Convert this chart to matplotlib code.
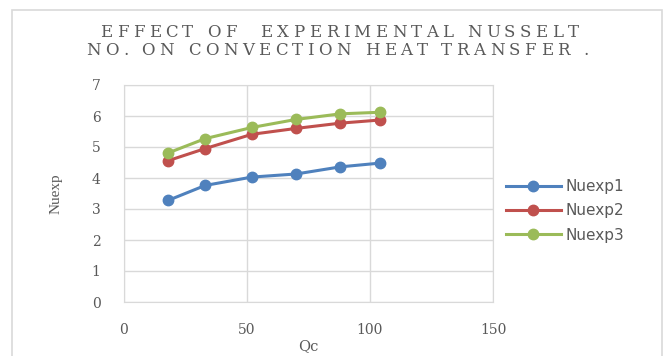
import matplotlib
matplotlib.use("Agg")
from matplotlib import pyplot as plt
from matplotlib.patches import Rectangle
from matplotlib.font_manager import FontProperties

qc = [18, 33, 52, 70, 88, 104]
nuexp1 = [3.28, 3.76, 4.03, 4.13, 4.36, 4.48]
nuexp2 = [4.56, 4.95, 5.41, 5.60, 5.77, 5.87]
nuexp3 = [4.81, 5.27, 5.63, 5.89, 6.07, 6.12]
series = [("Nuexp1", nuexp1, "#4F81BD"),
          ("Nuexp2", nuexp2, "#C0504D"),
          ("Nuexp3", nuexp3, "#9BBB59")]

titulo1 = "EFFECT OF  EXPERIMENTAL NUSSELT"
titulo2 = "NO. ON CONVECTION HEAT TRANSFER ."

x_ticks = [0, 50, 100, 150]
y_ticks = [0, 1, 2, 3, 4, 5, 6, 7]
gris = "#595959"

fig = plt.figure(figsize=(6.64, 3.56), dpi=100)
W, H = 664, 356

# marco exterior del grafico
fig.patches.append(Rectangle((12 / W, -0.01), 650 / W, 1 - 10 / H + 0.01,
                             transform=fig.transFigure, fill=False,
                             edgecolor="#D9D9D9", linewidth=1.2))

ax = fig.add_axes([124 / W, 1 - 302 / H, (493 - 124) / W, (302 - 85) / H])

for nombre, vals, col in series:
    ax.plot(qc, vals, color=col, linewidth=2.2, marker="o", markersize=7.5,
            label=nombre)

ax.set_xlim(0, 150)
ax.set_ylim(0, 7)
ax.set_xticks(x_ticks)
ax.set_yticks(y_ticks)
ax.grid(True, color="#D9D9D9", linewidth=1)
ax.set_axisbelow(True)
for s in ax.spines.values():
    s.set_color("#D9D9D9")
ax.tick_params(length=0, colors=gris, labelsize=10)
ax.tick_params(axis="x", pad=15)
ax.tick_params(axis="y", pad=17)
for lab in ax.get_xticklabels() + ax.get_yticklabels():
    lab.set_family("DejaVu Serif")

ax.set_xlabel("Qc", family="DejaVu Serif", fontsize=10.5, color=gris, labelpad=2)
ax.set_ylabel("Nuexp", family="Liberation Serif", fontsize=11, color=gris, labelpad=21)

# titulo con espaciado entre letras (como en el original)
rend = fig.canvas.get_renderer()
fp = FontProperties(family="DejaVu Serif", size=12)


def ancho(s):
    w, h, d = rend.get_text_width_height_descent(s + "I", fp, ismath=False)
    w0, h0, d0 = rend.get_text_width_height_descent("I", fp, ismath=False)
    return w - w0


def texto_espaciado(s, x0, x1, yb):
    natural = ancho(s)
    extra = (x1 - x0 - natural) / (len(s) - 1)
    for i, ch in enumerate(s):
        if ch == " ":
            continue
        x = x0 + ancho(s[:i]) + i * extra
        fig.text(x / W, 1 - yb / H, ch, fontproperties=fp, color=gris,
                 ha="left", va="baseline")


texto_espaciado(titulo1, 100, 577, 37)
texto_espaciado(titulo2, 86, 589, 55)

ax.legend(loc="center left", bbox_to_anchor=(492 / W, 1 - 211 / H),
          bbox_transform=fig.transFigure, frameon=False, fontsize=11,
          labelcolor=gris, handlelength=3.6, labelspacing=0.6,
          handletextpad=0.3)

fig.savefig("out.png", dpi=100)
